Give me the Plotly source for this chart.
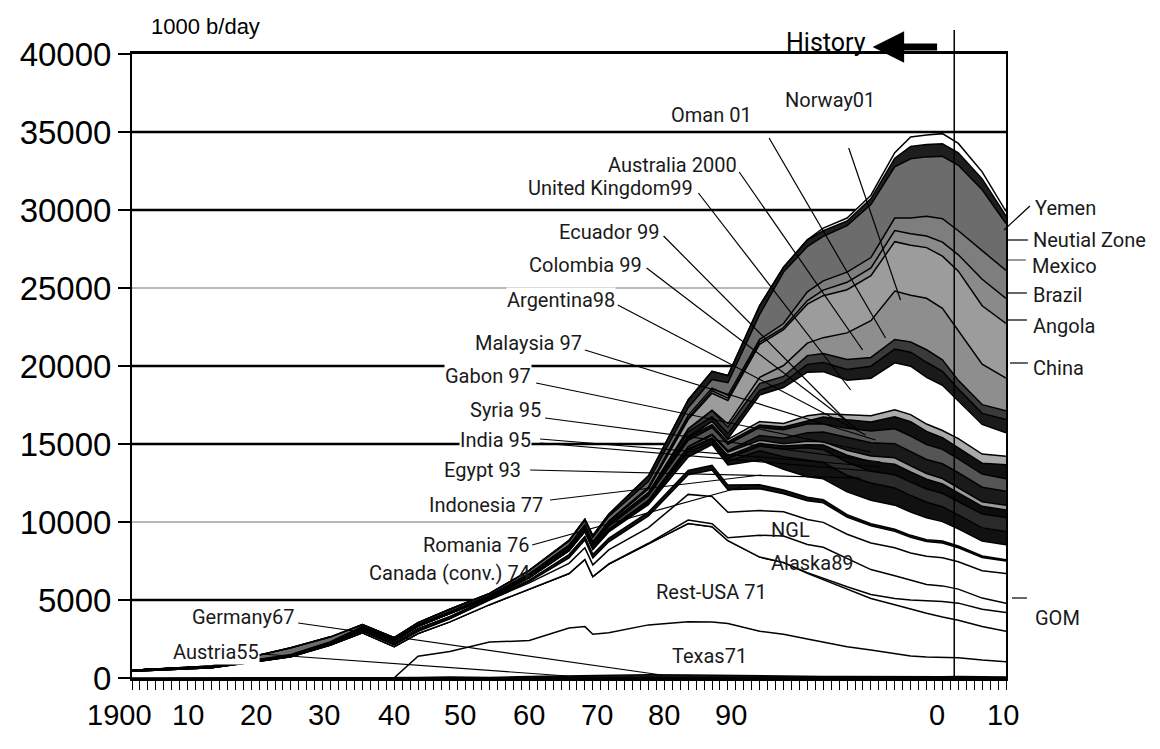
import plotly.graph_objects as go

# ---------------- data (1000 b/day) ----------------
years = [1900, 1910, 1920, 1925, 1929, 1933, 1936, 1940, 1945, 1950, 1955, 1957, 1958, 1960, 1965,
         1970, 1973, 1975, 1979, 1982, 1985, 1987, 1990, 1993, 1996, 1998, 2000, 2002, 2004, 2007, 2010]

austria = [0, 0, 0, 0, 0, 0, 0, 10, 20, 50, 70, 65, 60, 50, 55, 50, 45, 40, 35, 30, 25, 22, 22, 20, 20, 20, 20, 20, 19, 18, 17]
germany = [5, 10, 10, 10, 10, 15, 30, 60, 20, 50, 70, 80, 90, 110, 150, 150, 130, 110, 95, 85, 80, 75, 70, 60, 60, 55, 60, 65, 70, 65, 50]
texas = [0, 0, 0, 0, 0, 0, 1370, 1630, 2260, 2300, 3060, 3150, 2650, 2740, 3200, 3400, 3420, 3350, 2870, 2690, 2400, 2200, 1910, 1720, 1470, 1330, 1270, 1240, 1210, 1070, 980]
rest_usa = [420, 640, 1350, 2100, 2890, 2000, 1450, 1900, 2400, 3300, 3500, 4300, 3700, 4400, 5200, 6300, 6100, 5300, 4750, 4600, 4200, 4000, 3700, 3300, 3150, 3000, 2800, 2580, 2400, 2150, 1950]
gom = [0] * 20 + [50, 80, 150, 250, 400, 600, 800, 1000, 1100, 1100, 1200]
alaska = [0] * 13 + [10, 30, 220, 200, 190, 1400, 1700, 1800, 2000, 1800, 1600, 1450, 1250, 1050, 1000, 900, 720, 600]
ngl = [0, 5, 20, 50, 100, 110, 140, 200, 300, 400, 650, 750, 750, 900, 1000, 1650, 1740, 1630, 1580, 1550, 1610, 1600, 1560, 1700, 1800, 1760, 1800, 1800, 1750, 1750, 1900]
canada = [5, 5, 5, 10, 15, 15, 20, 25, 25, 80, 350, 500, 450, 520, 750, 1260, 1700, 1450, 1400, 1150, 1200, 1250, 1100, 1100, 1050, 1000, 950, 950, 900, 850, 800]
romania = [50, 30, 20, 45, 90, 150, 170, 120, 90, 90, 210, 230, 230, 230, 250, 280, 290, 295, 250, 240, 220, 200, 160, 140, 130, 130, 120, 120, 110, 100, 90]
indonesia = [10, 30, 50, 60, 90, 100, 130, 170, 20, 130, 230, 300, 300, 400, 480, 850, 1340, 1300, 1590, 1340, 1320, 1340, 1460, 1510, 1550, 1500, 1400, 1250, 1100, 950, 950]
egypt = [0, 0, 3, 3, 5, 5, 4, 18, 27, 45, 35, 50, 65, 65, 125, 330, 170, 235, 600, 800, 1050, 1050, 1050, 1100, 1100, 1050, 1000, 950, 900, 850, 850]
india = [0, 2, 5, 6, 6, 7, 7, 7, 6, 5, 6, 8, 9, 10, 60, 140, 150, 170, 300, 500, 800, 820, 850, 750, 850, 860, 850, 870, 870, 880, 900]
syria = [0] * 15 + [80, 110, 180, 170, 180, 200, 300, 450, 620, 680, 650, 620, 600, 550, 500, 480]
gabon = [0] * 10 + [2, 10, 10, 15, 25, 110, 150, 225, 200, 155, 220, 210, 320, 360, 410, 390, 370, 340, 310, 300, 300]
malaysia = [0, 5, 20, 15, 15, 10, 15, 15, 5, 70, 110, 100, 100, 90, 80, 20, 90, 100, 300, 350, 550, 620, 800, 850, 900, 920, 900, 950, 980, 930, 900]
argentina = [0, 5, 30, 20, 25, 40, 45, 55, 60, 70, 85, 90, 100, 175, 280, 390, 420, 400, 520, 550, 550, 520, 600, 750, 950, 1000, 950, 920, 880, 840, 800]
colombia = [0, 0, 0, 3, 55, 35, 50, 70, 60, 95, 110, 125, 125, 155, 200, 225, 190, 160, 150, 170, 230, 450, 550, 580, 780, 920, 850, 750, 700, 700, 900]
ecuador = [0, 0, 0, 2, 4, 5, 6, 6, 7, 7, 9, 9, 8, 8, 8, 4, 210, 160, 230, 230, 300, 200, 330, 400, 450, 450, 470, 460, 600, 580, 550]
uk = [0] * 17 + [30, 1700, 2300, 2800, 2700, 2200, 2400, 3000, 3100, 3000, 2900, 2400, 1900, 1500]
oman = [0] * 15 + [330, 290, 340, 295, 330, 500, 590, 690, 780, 880, 900, 960, 900, 780, 710, 860]
australia = [0] * 14 + [5, 180, 390, 430, 440, 380, 560, 570, 650, 560, 620, 650, 800, 730, 550, 560, 550]
norway = [0] * 16 + [30, 190, 400, 700, 800, 1020, 1700, 2350, 3100, 3000, 3300, 3300, 3200, 2600, 2100]
china = [0] * 10 + [20, 30, 45, 100, 230, 600, 1090, 1500, 2120, 2300, 2500, 2690, 2770, 2890, 3170, 3210, 3250, 3350, 3800, 3740, 3500]
angola = [0] * 14 + [13, 100, 160, 160, 140, 130, 230, 360, 475, 500, 710, 735, 745, 900, 1050, 1700, 1600]
brazil = [0] * 9 + [1, 6, 30, 50, 80, 95, 170, 170, 180, 170, 260, 560, 590, 650, 660, 800, 1000, 1270, 1500, 1540, 1830, 1800]
mexico = [1, 35, 430, 315, 120, 90, 110, 120, 120, 200, 250, 260, 275, 300, 360, 490, 550, 800, 1600, 3300, 2900, 2850, 2980, 3400, 3280, 3800, 3800, 4000, 4200, 3900, 3000]
neutral_zone = [0] * 10 + [50, 100, 120, 140, 370, 500, 520, 460, 570, 310, 430, 360, 300, 380, 550, 800, 800, 800, 800, 700, 500]
yemen = [0] * 20 + [10, 170, 190, 220, 360, 600, 600, 650, 600, 450, 280]

y_ticks = [0, 5000, 10000, 15000, 20000, 25000, 30000, 35000, 40000]
x_tick_labels = ["1900", "10", "20", "30", "40", "50", "60", "70", "80", "90", "0", "10"]

# ---------------- layers (bottom -> top) with fills ----------------
layers = [
    ("Austria", austria, "#202020"),
    ("Germany", germany, "#202020"),
    ("Texas", texas, "white"),
    ("Rest-USA", rest_usa, "white"),
    ("GOM", gom, "white"),
    ("Alaska", alaska, "white"),
    ("NGL", ngl, "white"),
    ("Canada (conv.)", canada, "white"),
    ("Romania", romania, "#111111"),
    ("Indonesia", indonesia, "white"),
    ("Egypt", egypt, "#111111"),
    ("India", india, "#2a2a2a"),
    ("Syria", syria, "#0d0d0d"),
    ("Gabon", gabon, "#9a9a9a"),
    ("Malaysia", malaysia, "#1a1a1a"),
    ("Argentina", argentina, "#555555"),
    ("Colombia", colombia, "#111111"),
    ("Ecuador", ecuador, "#aaaaaa"),
    ("United Kingdom", uk, "white"),
    ("Oman", oman, "#1a1a1a"),
    ("Australia", australia, "#3a3a3a"),
    ("Norway", norway, "#8e8e8e"),
    ("China", china, "#9c9c9c"),
    ("Angola", angola, "#8a8a8a"),
    ("Brazil", brazil, "#7e7e7e"),
    ("Mexico", mexico, "#6c6c6c"),
    ("Neutral Zone", neutral_zone, "#1e1e1e"),
    ("Yemen", yemen, "white"),
]

fig = go.Figure()
for name, vals, fc in layers:
    fig.add_trace(go.Scatter(
        x=years, y=vals, name=name, stackgroup="oil", mode="lines",
        line=dict(color="black", width=1.5), fillcolor=fc,
        hoverinfo="skip", showlegend=False))

# ---------------- helpers: picture pixels -> paper coords ----------------
# page offset of the figure (browser default body margin)
OFF = 8
L, R, T, B = 128, 1006, 54, 678
W, H = 1160 - OFF, 749 - OFF


def xp(px):
    return (px - L) / (R - L)


def yp(py):
    return (B - py) / (B - T)


shapes = []
# horizontal grid lines (behind the areas)
for v in y_ticks[1:-1]:
    grey = v in (10000, 25000)
    shapes.append(dict(type="line", xref="paper", yref="y", x0=0, x1=1, y0=v, y1=v,
                       line=dict(color="#b8b8b8" if grey else "black", width=2 if grey else 2.5),
                       layer="below"))

# vertical "history" line
shapes.append(dict(type="line", xref="paper", yref="paper", x0=xp(954), x1=xp(954),
                   y0=0, y1=yp(30), line=dict(color="black", width=1.5), layer="above"))

# leader lines (label -> layer), in picture pixels
leaders = [
    ((768, 138), (885, 338)),   # Oman
    ((848, 148), (900, 300)),   # Norway
    ((738, 172), (862, 350)),   # Australia
    ((697, 193), (850, 390)),   # UK
    ((662, 236), (845, 420)),   # Ecuador
    ((645, 268), (855, 428)),   # Colombia
    ((616, 305), (865, 435)),   # Argentina
    ((583, 350), (875, 440)),   # Malaysia
    ((534, 383), (870, 452)),   # Gabon
    ((543, 418), (880, 462)),   # Syria
    ((538, 439), (880, 467)),   # India
    ((538, 443), (880, 472)),   # India (2nd)
    ((528, 470), (860, 478)),   # Egypt
    ((548, 500), (760, 475)),   # Indonesia
    ((530, 545), (740, 487)),   # Romania
    ((295, 623), (660, 675)),   # Germany
    ((258, 654), (565, 676)),   # Austria
    ((1030, 206), (1004, 230)),  # Yemen
    ((1008, 240), (1028, 240)),  # Neutral zone
    ((1008, 293), (1027, 293)),  # Brazil
    ((1006, 320), (1027, 320)),  # Angola
    ((1010, 363), (1028, 363)),  # China
    ((1012, 598), (1027, 598)),  # GOM
]
for (a, b) in leaders:
    shapes.append(dict(type="line", xref="paper", yref="paper",
                       x0=xp(a[0]), y0=yp(a[1]), x1=xp(b[0]), y1=yp(b[1]),
                       line=dict(color="black", width=1.2), layer="above"))
shapes.append(dict(type="line", xref="paper", yref="paper",
                   x0=xp(1008), y0=yp(260), x1=xp(1026), y1=yp(260),
                   line=dict(color="#777777", width=1.5), layer="above"))

LBL = dict(family="Roboto, Liberation Sans Narrow, Arial, sans-serif", size=20, color="#1a1a1a")
annotations = []

left_labels = [
    ("Oman 01", 752, 115), ("Norway01", 875, 100), ("Australia 2000", 737, 165),
    ("United Kingdom99", 693, 188), ("Ecuador 99", 658, 232), ("Colombia 99", 641, 265),
    ("Argentina98", 614, 300), ("Malaysia 97", 581, 343), ("Gabon 97", 530, 376),
    ("Syria 95", 540, 410), ("India 95", 530, 440), ("Egypt 93", 520, 470),
    ("Indonesia 77", 542, 505), ("Romania 76", 528, 545), ("Germany67", 292, 617),
    ("Austria55", 257, 652),
]
for txt, px, py in left_labels:
    annotations.append(dict(text=txt, xref="paper", yref="paper", x=xp(px), y=yp(py),
                            xanchor="right", yanchor="middle", showarrow=False, font=LBL,
                            bgcolor="white", borderpad=0))
annotations.append(dict(text="Canada (conv.) 74", xref="paper", yref="paper", x=xp(530), y=yp(573),
                        xanchor="right", yanchor="middle", showarrow=False, font=LBL))

inner_labels = [("NGL", 768, 530), ("Alaska89", 768, 563), ("Rest-USA 71", 652, 592),
                ("Texas71", 668, 656)]
for txt, px, py in inner_labels:
    annotations.append(dict(text=txt, xref="paper", yref="paper", x=xp(px), y=yp(py),
                            xanchor="left", yanchor="middle", showarrow=False, font=LBL))

right_labels = [("Yemen", 1033, 208), ("Neutial Zone", 1031, 240), ("Mexico", 1030, 266),
                ("Brazil", 1031, 295), ("Angola", 1031, 326), ("China", 1031, 368),
                ("GOM", 1033, 618)]
for txt, px, py in right_labels:
    annotations.append(dict(text=txt, xref="paper", yref="paper", x=xp(px), y=yp(py),
                            xanchor="left", yanchor="middle", showarrow=False, font=LBL))

# x tick labels (placed as in the original picture)
x_label_px = [115, 184, 253, 321, 391, 458, 527, 595, 662, 730, 937, 1003]
for txt, px in zip(x_tick_labels, x_label_px):
    annotations.append(dict(text=txt, xref="paper", yref="paper", x=xp(px), y=yp(715),
                            xanchor="center", yanchor="middle", showarrow=False,
                            font=dict(family="Liberation Sans, Arial, sans-serif", size=29, color="black")))

# unit and history
annotations.append(dict(text="1000 b/day", xref="paper", yref="paper", x=xp(145), y=yp(27),
                        xanchor="left", yanchor="middle", showarrow=False,
                        font=dict(family="Liberation Sans, Arial, sans-serif", size=22, color="black")))
annotations.append(dict(text="History", xref="paper", yref="paper", x=xp(825), y=yp(42),
                        xanchor="center", yanchor="middle", showarrow=False,
                        font=dict(family="Roboto, Arial, sans-serif", size=25, color="black")))
annotations.append(dict(text="", xref="paper", yref="paper", x=xp(872), y=yp(47),
                        ax=938 - 872, ay=0,
                        showarrow=True, arrowhead=2, arrowsize=0.9, arrowwidth=7, arrowcolor="black"))

fig.update_layout(
    width=W, height=H,
    margin=dict(l=L - OFF, r=W - (R - OFF), t=T - OFF, b=H - (B - OFF)),
    paper_bgcolor="white", plot_bgcolor="white", showlegend=False,
    xaxis=dict(range=[1900, 2010], showgrid=False, zeroline=False, showline=True,
               linecolor="black", linewidth=2.5, mirror=True, tickmode="linear", tick0=1900,
               dtick=1, ticks="outside", ticklen=9, tickwidth=1.2, tickcolor="black",
               showticklabels=False),
    yaxis=dict(range=[0, 40000], showgrid=False, zeroline=False, showline=True,
               linecolor="black", linewidth=2, mirror=True, tickmode="array",
               tickvals=y_ticks, ticktext=[str(v) for v in y_ticks], ticks="outside",
               ticklen=12, tickwidth=2, tickcolor="black",
               tickfont=dict(family="Liberation Sans, Arial, sans-serif", size=33, color="black")),
    shapes=shapes, annotations=annotations,
)

fig.write_html("out.html")
